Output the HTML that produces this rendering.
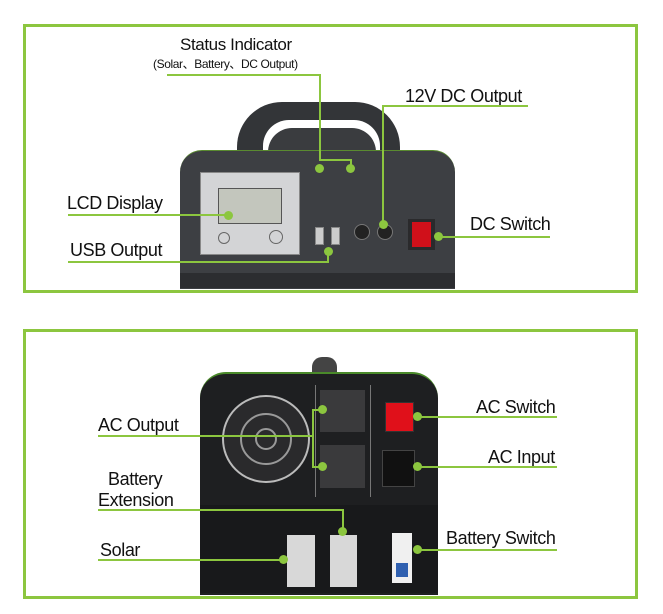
<!DOCTYPE html>
<html><head><meta charset="utf-8"><style>
body{margin:0;width:663px;height:614px;background:#fff;position:relative;overflow:hidden;font-family:"Liberation Sans",sans-serif}
.a{position:absolute}
.g{position:absolute;background:#8cc63f}
.d{position:absolute;width:9px;height:9px;border-radius:50%;background:#8cc63f}
.t{position:absolute;color:#111;font-size:18px;white-space:nowrap;letter-spacing:-0.4px}
</style></head><body>
<!-- frames -->
<div class="a" style="left:23px;top:24px;width:609px;height:263px;border:3px solid #8cc63f"></div>
<div class="a" style="left:23px;top:329px;width:609px;height:264px;border:3px solid #8cc63f"></div>

<!-- top device -->
<div class="a" style="left:237px;top:102px;width:163px;height:60px;border-radius:45px 45px 0 0;background:#333538"></div>
<div class="a" style="left:263px;top:120px;width:117px;height:40px;border-radius:26px 26px 0 0;background:#fff"></div>
<div class="a" style="left:268px;top:128px;width:108px;height:30px;border-radius:24px 24px 0 0;background:#3a3c3f"></div>
<div class="a" style="left:180px;top:150px;width:275px;height:138px;border-radius:22px 22px 0 0;background:#3d3f43;border-top:1px solid #5a8a30"></div>
<div class="a" style="left:180px;top:273px;width:275px;height:15px;background:#2c2d30"></div>
<div class="a" style="left:200px;top:172px;width:98px;height:81px;background:#d3d4d6;border:1px solid #888"></div>
<div class="a" style="left:218px;top:188px;width:62px;height:34px;background:#c3c6bd;border:1px solid #555"></div>
<div class="a" style="left:218px;top:232px;width:10px;height:10px;border-radius:50%;border:1px solid #666"></div>
<div class="a" style="left:269px;top:230px;width:12px;height:12px;border-radius:50%;border:1px solid #666"></div>
<div class="a" style="left:315px;top:227px;width:7px;height:16px;background:#ccc;border:1px solid #888"></div>
<div class="a" style="left:331px;top:227px;width:7px;height:16px;background:#ccc;border:1px solid #888"></div>
<div class="a" style="left:354px;top:224px;width:14px;height:14px;border-radius:50%;background:#222;border:1px solid #777"></div>
<div class="a" style="left:377px;top:224px;width:14px;height:14px;border-radius:50%;background:#222;border:1px solid #777"></div>
<div class="a" style="left:408px;top:219px;width:27px;height:31px;background:#2a2a2c"></div>
<div class="a" style="left:412px;top:222px;width:19px;height:25px;background:#d0101a"></div>

<!-- top labels -->
<div class="t" style="left:180px;top:35px;font-size:17px">Status Indicator</div>
<div class="t" style="left:153px;top:55px;font-size:12px">(Solar、Battery、DC Output)</div>
<div class="g" style="left:167px;top:74px;width:154px;height:2px"></div>
<div class="g" style="left:319px;top:74px;width:2px;height:87px"></div>
<div class="g" style="left:319px;top:159px;width:33px;height:2px"></div>
<div class="g" style="left:350px;top:159px;width:2px;height:9px"></div>
<div class="d" style="left:315px;top:164px"></div>
<div class="d" style="left:346px;top:164px"></div>

<div class="t" style="left:405px;top:86px">12V DC Output</div>
<div class="g" style="left:382px;top:105px;width:146px;height:2px"></div>
<div class="g" style="left:382px;top:105px;width:2px;height:118px"></div>
<div class="d" style="left:379px;top:220px"></div>

<div class="t" style="left:67px;top:193px">LCD Display</div>
<div class="g" style="left:68px;top:214px;width:160px;height:2px"></div>
<div class="d" style="left:224px;top:211px"></div>

<div class="t" style="left:70px;top:240px">USB Output</div>
<div class="g" style="left:68px;top:261px;width:261px;height:2px"></div>
<div class="g" style="left:327px;top:251px;width:2px;height:12px"></div>
<div class="d" style="left:324px;top:247px"></div>

<div class="t" style="left:470px;top:214px">DC Switch</div>
<div class="g" style="left:438px;top:236px;width:112px;height:2px"></div>
<div class="d" style="left:434px;top:232px"></div>

<!-- bottom device -->
<div class="a" style="left:312px;top:357px;width:25px;height:17px;border-radius:10px 10px 0 0;background:#444"></div>
<div class="a" style="left:200px;top:372px;width:238px;height:221px;border-radius:26px 26px 0 0;background:#1e1f21;border-top:2px solid #4a8a2a"></div>
<div class="a" style="left:200px;top:505px;width:238px;height:88px;background:#18191b"></div>
<div class="a" style="left:222px;top:395px;width:84px;height:84px;border-radius:50%;background:#2a2a2c;border:2px solid #bbb"></div>
<div class="a" style="left:240px;top:413px;width:48px;height:48px;border-radius:50%;border:2px solid #999"></div>
<div class="a" style="left:255px;top:428px;width:18px;height:18px;border-radius:50%;border:2px solid #999"></div>
<div class="a" style="left:315px;top:385px;width:1px;height:112px;background:#777"></div>
<div class="a" style="left:370px;top:385px;width:1px;height:112px;background:#777"></div>
<div class="a" style="left:320px;top:390px;width:45px;height:42px;background:#3a3a3c"></div>
<div class="a" style="left:320px;top:445px;width:45px;height:43px;background:#3a3a3c"></div>
<div class="a" style="left:385px;top:402px;width:27px;height:28px;background:#e0101a;border:1px solid #333"></div>
<div class="a" style="left:382px;top:450px;width:31px;height:35px;background:#111;border:1px solid #444"></div>
<div class="a" style="left:287px;top:535px;width:28px;height:52px;background:#d8d8d8"></div>
<div class="a" style="left:330px;top:535px;width:27px;height:52px;background:#d8d8d8"></div>
<div class="a" style="left:392px;top:533px;width:20px;height:50px;background:#f0f0f0"></div>
<div class="a" style="left:396px;top:563px;width:12px;height:14px;background:#3060b0"></div>

<!-- bottom labels -->
<div class="t" style="left:98px;top:415px">AC Output</div>
<div class="g" style="left:98px;top:435px;width:215px;height:2px"></div>
<div class="g" style="left:312px;top:409px;width:2px;height:59px"></div>
<div class="g" style="left:312px;top:409px;width:10px;height:2px"></div>
<div class="g" style="left:312px;top:466px;width:10px;height:2px"></div>
<div class="d" style="left:318px;top:405px"></div>
<div class="d" style="left:318px;top:462px"></div>

<div class="t" style="left:108px;top:469px">Battery</div>
<div class="t" style="left:98px;top:490px">Extension</div>
<div class="g" style="left:98px;top:509px;width:246px;height:2px"></div>
<div class="g" style="left:342px;top:509px;width:2px;height:22px"></div>
<div class="d" style="left:338px;top:527px"></div>

<div class="t" style="left:100px;top:540px">Solar</div>
<div class="g" style="left:98px;top:559px;width:186px;height:2px"></div>
<div class="d" style="left:279px;top:555px"></div>

<div class="t" style="left:476px;top:397px">AC Switch</div>
<div class="g" style="left:417px;top:416px;width:140px;height:2px"></div>
<div class="d" style="left:413px;top:412px"></div>
<div class="t" style="left:488px;top:447px">AC Input</div>
<div class="g" style="left:417px;top:466px;width:140px;height:2px"></div>
<div class="d" style="left:413px;top:462px"></div>
<div class="t" style="left:446px;top:528px">Battery Switch</div>
<div class="g" style="left:417px;top:549px;width:140px;height:2px"></div>
<div class="d" style="left:413px;top:545px"></div>
</body></html>
